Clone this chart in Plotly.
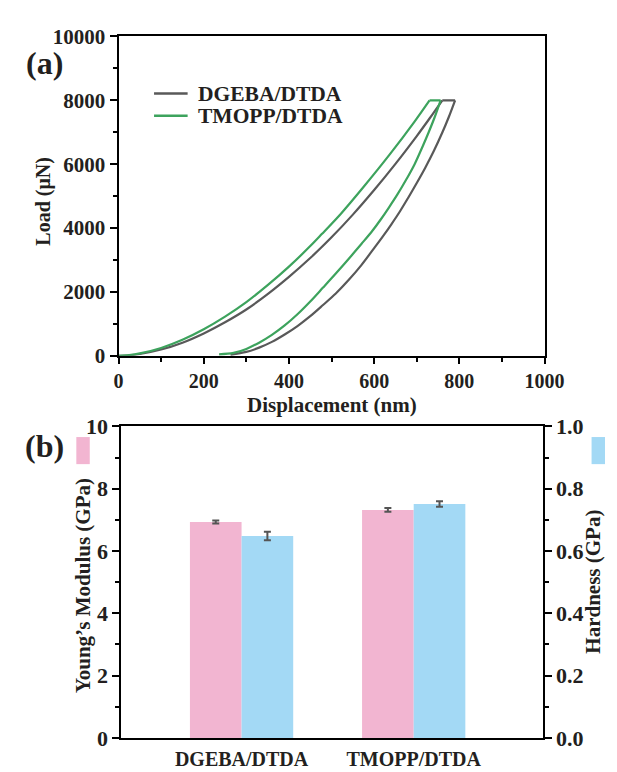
import plotly.graph_objects as go

# ---------------- data: panel (a) load-displacement curves ----------------
dgeba_load_nm = [0, 25, 50, 100, 150, 200, 250, 300, 350, 400, 450, 500, 550, 600, 650, 700, 730, 760]
dgeba_load_uN = [0, 16, 55, 195, 410, 700, 1050, 1450, 1930, 2470, 3060, 3710, 4420, 5190, 6010, 6880, 7430, 8000]
dgeba_unload_nm = [790, 775, 760, 740, 720, 700, 680, 660, 640, 620, 600, 570, 540, 510, 480, 450, 420, 390, 360, 330, 300, 263]
dgeba_unload_uN = [8000, 7470, 6990, 6410, 5890, 5410, 4950, 4510, 4110, 3730, 3370, 2840, 2370, 1950, 1590, 1240, 930, 665, 435, 255, 120, 30]

tmopp_load_nm = [0, 25, 50, 100, 150, 200, 250, 300, 350, 400, 450, 477, 522, 574, 638, 694, 730]
tmopp_load_uN = [0, 22, 73, 245, 500, 830, 1225, 1680, 2210, 2790, 3435, 3810, 4450, 5270, 6330, 7320, 8000]
tmopp_unload_nm = [756, 742, 728, 712, 695, 675, 655, 635, 615, 595, 570, 540, 510, 480, 450, 420, 390, 360, 330, 300, 270, 236]
tmopp_unload_uN = [8000, 7470, 7000, 6500, 6000, 5510, 5060, 4650, 4260, 3900, 3500, 3030, 2575, 2135, 1700, 1300, 950, 655, 410, 215, 90, 45]

# ---------------- data: panel (b) bars ----------------
samples = ["DGEBA/DTDA", "TMOPP/DTDA"]
modulus_gpa = [6.93, 7.32]
modulus_err = [0.05, 0.06]
hardness_gpa = [0.648, 0.751]
hardness_err = [0.0135, 0.0085]

GRAY = "#595959"
GREEN = "#3da35d"
PINK = "#f2b5d1"
BLUE = "#a3d9f5"
TXT = "#231f20"
FONT = "Times New Roman, Liberation Serif, serif"
W, H = 617, 772

def px_x(p):
    return p / W

def px_y(p):
    return 1 - p / H

fig = go.Figure()

series = [
    ("DGEBA/DTDA", GRAY, dgeba_load_nm, dgeba_load_uN, dgeba_unload_nm, dgeba_unload_uN),
    ("TMOPP/DTDA", GREEN, tmopp_load_nm, tmopp_load_uN, tmopp_unload_nm, tmopp_unload_uN),
]
for name, col, lx, ly, ux, uy in series:
    ln = dict(color=col, width=2.2)
    fig.add_trace(go.Scatter(x=lx, y=ly, mode="lines", line=dict(shape="spline", smoothing=0.9, **ln),
                             name=name, legendgroup=name, showlegend=False, xaxis="x", yaxis="y"))
    fig.add_trace(go.Scatter(x=[lx[-1], ux[0]], y=[ly[-1], uy[0]], mode="lines", line=ln,
                             name=name, legendgroup=name, showlegend=False, xaxis="x", yaxis="y"))
    fig.add_trace(go.Scatter(x=ux, y=uy, mode="lines", line=dict(shape="spline", smoothing=0.9, **ln),
                             name=name, legendgroup=name, showlegend=False, xaxis="x", yaxis="y"))

BW = 0.3
fig.add_trace(go.Bar(x=samples, y=modulus_gpa, width=BW, offset=-BW, marker=dict(color=PINK, line=dict(width=0)),
                     error_y=dict(type="data", array=modulus_err, color="#555555", thickness=2, width=3.5),
                     xaxis="x2", yaxis="y3", showlegend=False, name="Young's Modulus"))
fig.add_trace(go.Bar(x=samples, y=hardness_gpa, width=BW, offset=0, marker=dict(color=BLUE, line=dict(width=0)),
                     error_y=dict(type="data", array=hardness_err, color="#555555", thickness=2, width=3.5),
                     xaxis="x2", yaxis="y4", showlegend=False, name="Hardness"))

def axis_common(size, ticklen=7):
    return dict(showline=True, linecolor="black", linewidth=2, ticks="outside", tickwidth=2,
                ticklen=ticklen, tickcolor="black", showgrid=False, zeroline=False,
                tickfont=dict(family=FONT, size=size, color=TXT, weight="bold"))

fig.update_layout(
    width=W, height=H, autosize=False,
    margin=dict(l=0, r=0, t=0, b=0),
    plot_bgcolor="white", paper_bgcolor="white",
    font=dict(family=FONT, color=TXT, weight="bold"),
    barmode="overlay",
    showlegend=False,
    xaxis=dict(domain=[px_x(110), px_x(554)], anchor="y", range=[0, 1000], dtick=200, tickformat="d",
               minor=dict(ticks="outside", ticklen=4, dtick=100, tickwidth=2, tickcolor="black"),
               mirror=True, **axis_common(20, 6)),
    yaxis=dict(domain=[px_y(347), px_y(17)], anchor="x", range=[0, 10000], dtick=2000, tickformat="d",
               minor=dict(ticks="outside", ticklen=4, dtick=1000, tickwidth=2, tickcolor="black"),
               mirror=True, **axis_common(21)),
    xaxis2=dict(domain=[px_x(113), px_x(552)], anchor="y3", type="category",
                range=[-0.698, 1.749], mirror=True, showline=True, linecolor="black", linewidth=2,
                ticks="", showgrid=False, zeroline=False, ticklabelstandoff=2,
                tickfont=dict(family=FONT, size=20, color=TXT, weight="bold")),
    yaxis3=dict(domain=[px_y(742), px_y(420)], anchor="x2", range=[0, 10], dtick=2,
                minor=dict(ticks="outside", ticklen=4, dtick=1, tickwidth=2, tickcolor="black"),
                **axis_common(22)),
    yaxis4=dict(domain=[px_y(742), px_y(420)], anchor="x2", overlaying="y3", side="right",
                range=[0, 1], dtick=0.2, tickformat=".1f",
                minor=dict(ticks="outside", ticklen=4, dtick=0.1, tickwidth=2, tickcolor="black"),
                **axis_common(22)),
)

ann_font = dict(family=FONT, size=21, color=TXT, weight="bold")
annotations = [
    dict(text="Load (μN)", x=px_x(32), y=px_y(187), textangle=-90, font=dict(family=FONT, size=20, color=TXT, weight="bold")),
    dict(text="Displacement (nm)", x=px_x(332), y=px_y(398), font=ann_font),
    dict(text="Young’s Modulus (GPa)", x=px_x(73), y=px_y(585), textangle=-90, font=ann_font),
    dict(text="Hardness (GPa)", x=px_x(605), y=px_y(580), textangle=-90, font=ann_font),
    dict(text="(a)", x=px_x(33), y=px_y(44), font=dict(family=FONT, size=32, color=TXT, weight="bold")),
    dict(text="(b)", x=px_x(33), y=px_y(440), font=dict(family=FONT, size=32, color=TXT, weight="bold")),
]
for a in annotations:
    a.update(xanchor="center")
# legend entries (panel a)
legend_rows = [("DGEBA/DTDA", GRAY, 76), ("TMOPP/DTDA", GREEN, 99)]
for name, col, yy in legend_rows:
    annotations.append(dict(text=name, x=px_x(191), y=px_y(yy), xanchor="left",
                            font=dict(family=FONT, size=21.5, color=TXT, weight="bold")))
for a in annotations:
    a.update(xref="paper", yref="paper", showarrow=False, yanchor="middle")
fig.update_layout(annotations=annotations)

shapes = [
    dict(type="rect", xref="paper", yref="paper", x0=px_x(66), x1=px_x(80), y0=px_y(459), y1=px_y(431),
         fillcolor=PINK, line=dict(width=0)),
    dict(type="rect", xref="paper", yref="paper", x0=px_x(603), x1=px_x(617), y0=px_y(459), y1=px_y(431),
         fillcolor=BLUE, line=dict(width=0)),
]
for name, col, yy in legend_rows:
    shapes.append(dict(type="line", xref="paper", yref="paper", x0=px_x(147), x1=px_x(182),
                       y0=px_y(yy), y1=px_y(yy), line=dict(color=col, width=2.5)))
fig.update_layout(shapes=shapes)

fig.write_html("out.html")
